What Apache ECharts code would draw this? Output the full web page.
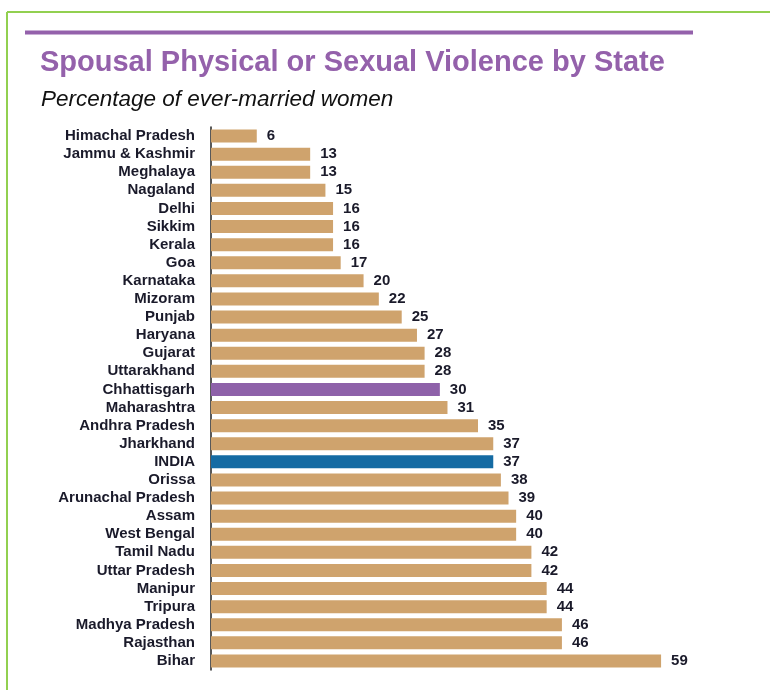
<!DOCTYPE html>
<html><head><meta charset="utf-8">
<script src="https://cdn.jsdelivr.net/npm/echarts@6/dist/echarts.min.js"></script>
<style>html,body{margin:0;padding:0;background:#fff}#c{width:770px;height:690px}</style>
</head><body><div id="c"></div>
<script>
var states = ["Himachal Pradesh","Jammu & Kashmir","Meghalaya","Nagaland","Delhi","Sikkim","Kerala","Goa","Karnataka","Mizoram","Punjab","Haryana","Gujarat","Uttarakhand","Chhattisgarh","Maharashtra","Andhra Pradesh","Jharkhand","INDIA","Orissa","Arunachal Pradesh","Assam","West Bengal","Tamil Nadu","Uttar Pradesh","Manipur","Tripura","Madhya Pradesh","Rajasthan","Bihar"];
var values = [6,13,13,15,16,16,16,17,20,22,25,27,28,28,30,31,35,37,37,38,39,40,40,42,42,44,44,46,46,59];
var highlight = {"Chhattisgarh":"#8e61a9","INDIA":"#156ba3"};
var baseColor = "#cfa36d";
var FONT = "'Liberation Sans',Arial,sans-serif";

var chart = echarts.init(document.getElementById('c'));
chart.setOption({
  animation:false,
  backgroundColor:'#fff',
  graphic:[
    {type:'line',shape:{x1:7,y1:12,x2:770,y2:12},style:{stroke:'#92d050',lineWidth:2}},
    {type:'line',shape:{x1:7,y1:12,x2:7,y2:690},style:{stroke:'#92d050',lineWidth:2}},
    {type:'line',shape:{x1:25,y1:32.5,x2:693,y2:32.5},style:{stroke:'#9461ab',lineWidth:4}}
  ],
  title:[
    {text:'Spousal Physical or Sexual Violence by State',left:35,top:43,
     textStyle:{fontFamily:FONT,fontWeight:'bold',fontSize:29,color:'#9461ab'}},
    {text:'Percentage of ever-married women',left:36,top:83,
     textStyle:{fontFamily:FONT,fontStyle:'italic',fontWeight:'normal',fontSize:22.5,color:'#111'}}
  ],
  grid:{left:211,top:127,right:25,bottom:20,containLabel:false},
  xAxis:{type:'value',min:0,max:70,show:false},
  yAxis:{type:'category',data:states,inverse:true,
    axisLine:{show:true,lineStyle:{color:'#222',width:1.5}},
    axisTick:{show:false},
    axisLabel:{interval:0,margin:16,fontFamily:FONT,fontWeight:'bold',fontSize:15,color:'#1a1a2a'}},
  series:[{type:'bar',barWidth:13,
    data:values.map(function(v,i){return {value:v,itemStyle:{color:highlight[states[i]]||baseColor}};}),
    label:{show:true,position:'right',distance:10,fontFamily:FONT,fontWeight:'bold',fontSize:15,color:'#1a1a2a'}
  }]
});
</script></body></html>
